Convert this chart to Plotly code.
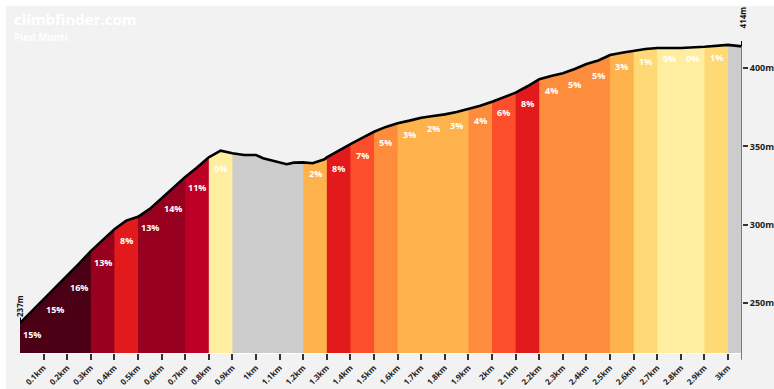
import numpy as np
import plotly.graph_objects as go

# Elevation profile of the climb (distance in km, elevation in m)
DIST_KM = [0.00, 0.05, 0.10, 0.15, 0.20, 0.25, 0.30, 0.35, 0.40, 0.45, 0.50,
           0.55, 0.60, 0.65, 0.70, 0.75, 0.80, 0.85, 0.90, 0.95, 1.00, 1.03,
           1.08, 1.10, 1.13, 1.16, 1.20, 1.24, 1.29, 1.30, 1.35, 1.40, 1.45,
           1.50, 1.55, 1.60, 1.65, 1.70, 1.75, 1.80, 1.85, 1.90, 1.95, 2.00,
           2.05, 2.10, 2.15, 2.20, 2.25, 2.30, 2.35, 2.40, 2.45, 2.50, 2.55,
           2.60, 2.65, 2.70, 2.80, 2.90, 3.00, 3.059]
ELEV_M = [237.0, 244.5, 252.5, 260.0, 267.0, 275.0, 283.0, 290.0, 297.0, 302.5, 305.0,
          310.0, 317.0, 324.0, 330.5, 336.5, 343.0, 347.3, 345.6, 344.5, 344.5, 342.4,
          340.5, 339.8, 338.6, 339.6, 339.8, 339.2, 341.8, 343.0, 347.5, 351.5, 355.5,
          359.4, 362.5, 364.8, 366.5, 368.4, 369.5, 370.5, 372.0, 373.8, 376.0, 378.6,
          381.5, 384.4, 388.5, 393.0, 395.0, 396.8, 399.5, 402.7, 405.0, 408.5, 410.0,
          411.3, 412.3, 413.0, 413.0, 413.8, 415.0, 414.0]

# 100 m sections and their average gradient (None = descending section)
SEG_EDGES_KM = [0.0, 0.1, 0.2, 0.3, 0.4, 0.5, 0.6, 0.7, 0.8, 0.9, 1.0, 1.1, 1.2,
                1.3, 1.4, 1.5, 1.6, 1.7, 1.8, 1.9, 2.0, 2.1, 2.2, 2.3, 2.4, 2.5,
                2.6, 2.7, 2.8, 2.9, 3.0, 3.059]
GRADE_PCT = [15, 15, 16, 13, 8, 13, 14, 11, 0, None, None, None, 2, 8, 7, 5,
             3, 2, 3, 4, 6, 8, 4, 5, 5, 3, 1, 0, 0, 1, None]

X_TICKS_KM = [0.1, 0.2, 0.3, 0.4, 0.5, 0.6, 0.7, 0.8, 0.9, 1.0, 1.1, 1.2, 1.3,
              1.4, 1.5, 1.6, 1.7, 1.8, 1.9, 2.0, 2.1, 2.2, 2.3, 2.4, 2.5, 2.6,
              2.7, 2.8, 2.9, 3.0]
Y_TICKS_M = [250, 300, 350, 400]

TITLE = "climbfinder.com"
SUBTITLE = "Pied Monti"

Y_RANGE = [217.8, 430.9]
FONT = "Open Sans"


def grade_colour(g):
    if g is None:
        return "#cccccc"
    if g >= 15:
        return "#4b0016"
    if g >= 13:
        return "#98001f"
    if g >= 10:
        return "#bd0026"
    if g >= 8:
        return "#e31a1c"
    if g >= 6:
        return "#fc4e2a"
    if g >= 4:
        return "#fd8d3c"
    if g >= 2:
        return "#feb24c"
    if g >= 1:
        return "#fed976"
    return "#ffeda0"


dist = np.array(DIST_KM)
elev = np.array(ELEV_M)

fig = go.Figure()

# coloured section fills under the profile; each fill runs from its section
# start to the finish and the next section paints over it, so no seams show
for i, g in enumerate(GRADE_PCT):
    a = SEG_EDGES_KM[i]
    inner = dist[dist > a]
    xs = np.concatenate([[a], inner])
    ys = np.interp(xs, dist, elev)
    fig.add_trace(go.Scatter(
        x=xs, y=ys, mode="lines", line=dict(width=0),
        fill="tozeroy", fillcolor=grade_colour(g),
        hoverinfo="skip", showlegend=False,
    ))

# profile outline
fig.add_trace(go.Scatter(
    x=dist, y=elev, mode="lines",
    line=dict(color="#000000", width=2.6),
    hoverinfo="skip", showlegend=False,
))

# small end markers at start and finish
for xk, ek in [(dist[0], elev[0]), (dist[-1], elev[-1])]:
    fig.add_trace(go.Scatter(
        x=[xk, xk], y=[ek, ek + 3.5], mode="lines",
        line=dict(color="#000000", width=2),
        hoverinfo="skip", showlegend=False,
    ))

annotations = []
# gradient labels
for i, g in enumerate(GRADE_PCT):
    if g is None:
        continue
    a, b = SEG_EDGES_KM[i], SEG_EDGES_KM[i + 1]
    annotations.append(dict(
        x=(a + b) / 2, y=float(np.interp(a, dist, elev)),
        xref="x", yref="y", yshift=-11, showarrow=False,
        text=f"{g}%",
        font=dict(family=FONT, size=9, color="#ffffff", weight="bold"),
    ))

# start / finish elevation labels
annotations.append(dict(
    x=dist[0], y=elev[0], xref="x", yref="y", xshift=-1, yshift=17,
    showarrow=False, textangle=-90, text=f"{elev[0]:.0f}m",
    font=dict(family=FONT, size=8, color="#111111", weight="bold"),
))
annotations.append(dict(
    x=dist[-1], y=elev[-1], xref="x", yref="y", yshift=29,
    showarrow=False, textangle=-90, text=f"{elev[-1]:.0f}m",
    font=dict(family=FONT, size=8, color="#111111", weight="bold"),
))

# brand and climb name
annotations.append(dict(
    x=-0.011, y=1.004, xref="paper", yref="paper", xanchor="left", yanchor="middle",
    showarrow=False, text=TITLE,
    font=dict(family=FONT, size=15, color="#ffffff", weight="bold"),
))
annotations.append(dict(
    x=-0.011, y=0.950, xref="paper", yref="paper", xanchor="left", yanchor="middle",
    showarrow=False, text=SUBTITLE,
    font=dict(family=FONT, size=10, color="#ffffff", weight="bold"),
))

y_end_paper = (elev[-1] - Y_RANGE[0]) / (Y_RANGE[1] - Y_RANGE[0])

shapes = [
    # light grey backdrop with a white edge on top and left
    dict(type="rect", xref="paper", yref="paper", x0=-0.0194, x1=1.05,
         y0=-0.12, y1=1.042, fillcolor="#f2f2f2", line=dict(width=0),
         layer="below"),
    # finish line / right axis
    dict(type="line", xref="x", yref="paper", x0=dist[-1], x1=dist[-1],
         y0=-0.02, y1=y_end_paper, line=dict(color="#7a7a7a", width=2)),
]

fig.update_layout(
    width=774, height=389,
    margin=dict(l=20, r=32, t=20, b=36, autoexpand=False),
    paper_bgcolor="#ffffff",
    plot_bgcolor="rgba(0,0,0,0)",
    showlegend=False,
    annotations=annotations,
    shapes=shapes,
    xaxis=dict(
        range=[0, dist[-1]], showgrid=False, zeroline=False, automargin=False,
        showline=True, linecolor="#ffffff", linewidth=1,
        tickmode="array", tickvals=X_TICKS_KM,
        ticktext=[f"{v:g}km" for v in X_TICKS_KM],
        ticks="outside", ticklen=6, tickwidth=1.5, tickcolor="#333333",
        tickangle=-45,
        tickfont=dict(family=FONT, size=8, color="#222222", weight="bold"),
        fixedrange=True,
    ),
    yaxis=dict(
        range=Y_RANGE, side="right", showgrid=False, zeroline=False,
        automargin=False, showline=False,
        tickmode="array", tickvals=Y_TICKS_M,
        ticktext=[f"{v}m" for v in Y_TICKS_M],
        ticks="outside", ticklen=5, tickwidth=1.5, tickcolor="#333333",
        tickfont=dict(family=FONT, size=9, color="#222222", weight="bold"),
        fixedrange=True,
    ),
)

fig.write_html("out.html", config={"displayModeBar": False})
